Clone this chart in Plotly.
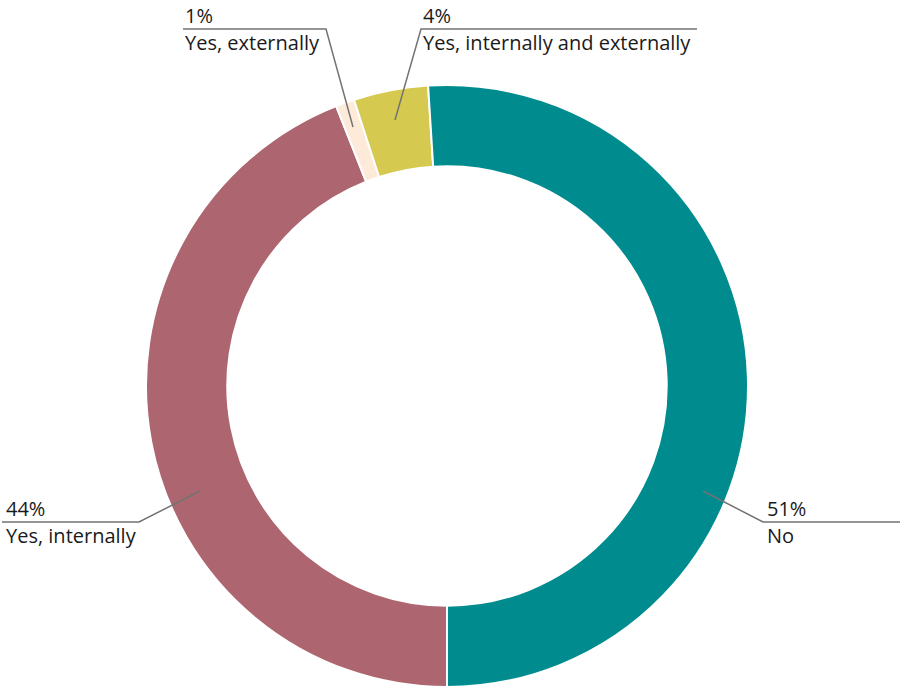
import plotly.graph_objects as go

# Survey answer shares (percent), listed clockwise from 6 o'clock
categories = ["Yes, internally", "Yes, externally", "Yes, internally and externally", "No"]
values = [44, 1, 4, 51]
colors = ["#ad656f", "#fdead8", "#d5c94f", "#008b8f"]

W, H = 904, 688
CX, CY, R = 447, 386, 301  # donut centre and outer radius in pixels

fig = go.Figure()
fig.add_trace(go.Pie(
    labels=categories,
    values=values,
    sort=False,
    direction="clockwise",
    rotation=180,
    hole=0.73,
    marker=dict(colors=colors, line=dict(color="white", width=2)),
    textinfo="none",
    hoverinfo="label+percent",
    showlegend=False,
    domain=dict(x=[(CX - R) / W, (CX + R) / W], y=[(H - CY - R) / H, (H - CY + R) / H]),
))

# Leader lines: (inner point, elbow, end of underline) in pixels
leaders = {
    "No": [(703, 491), (763, 522), (900, 522)],
    "Yes, internally": [(200, 491), (139, 522), (2, 522)],
    "Yes, externally": [(353, 127), (326, 29), (183, 29)],
    "Yes, internally and externally": [(395, 120), (421, 29), (697, 29)],
}
# Text anchor (left edge, underline y) for each label block
text_pos = {
    "No": (765, 522),
    "Yes, internally": (4, 522),
    "Yes, externally": (183, 29),
    "Yes, internally and externally": (421, 29),
}

for cat, val in zip(categories, values):
    pts = leaders[cat]
    path = "M {} {}".format(*pts[0]) + "".join(" L {} {}".format(*p) for p in pts[1:])
    fig.add_shape(type="path", path=path, xref="x", yref="y",
                  line=dict(color="#737373", width=1.5))
    tx, ty = text_pos[cat]
    fig.add_annotation(x=tx, y=ty, xref="x", yref="y", text=f"{val}%",
                       showarrow=False, xanchor="left", yanchor="bottom",
                       yshift=-2, font=dict(size=20, color="#1a1a1a"))
    fig.add_annotation(x=tx, y=ty, xref="x", yref="y", text=cat,
                       showarrow=False, xanchor="left", yanchor="top",
                       yshift=2, font=dict(size=20, color="#1a1a1a"))

fig.update_layout(
    width=W, height=H,
    margin=dict(l=0, r=0, t=0, b=0),
    paper_bgcolor="white", plot_bgcolor="rgba(0,0,0,0)",
    font=dict(family="Open Sans, Noto Sans, sans-serif"),
    xaxis=dict(range=[0, W], visible=False, fixedrange=True),
    yaxis=dict(range=[H, 0], visible=False, fixedrange=True),
)

fig.write_html("out.html")
